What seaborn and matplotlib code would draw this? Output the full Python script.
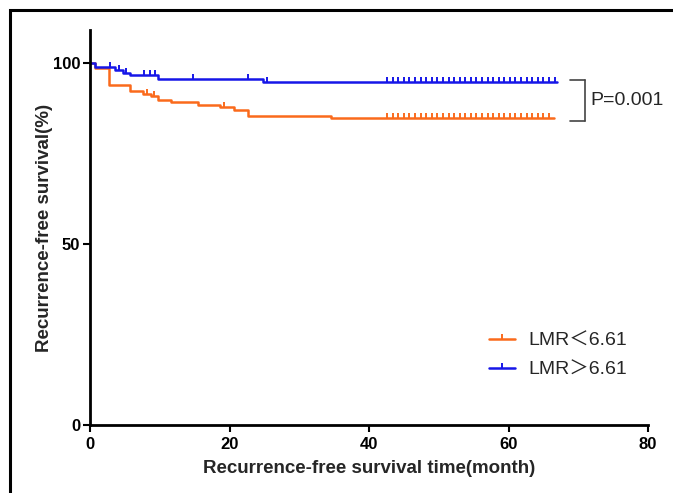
import matplotlib
matplotlib.use("Agg")
import matplotlib.pyplot as plt
from matplotlib.lines import Line2D
from matplotlib.patches import Rectangle
import numpy as np
import seaborn as sns

# DATA
# LMR < 6.61 (orange): step times (month) and survival (%)
time_low = [0, 0.7, 2.75, 5.7, 7.6, 8.7, 9.7, 11.6, 15.5, 18.6, 20.6, 22.7, 34.6, 66.5]
surv_low = [100, 98.5, 93.8, 92.1, 91.4, 90.7, 89.8, 89.0, 88.4, 87.8, 86.9, 85.3, 84.6, 84.6]
cens_low = [8.2, 9.2, 19.2,
            42.6, 43.4, 44.2, 45.0, 45.8, 46.6, 47.4, 48.2, 49.0, 49.8, 50.6, 51.4,
            52.2, 53.0, 53.8, 54.6, 55.4, 56.2, 57.0, 57.8, 58.6, 59.4, 60.2, 61.0,
            61.8, 62.6, 63.4, 64.2, 65.0, 65.8]

# LMR > 6.61 (blue)
time_high = [0, 0.7, 3.6, 4.7, 5.7, 9.7, 24.8, 67.0]
surv_high = [100, 98.8, 97.9, 97.1, 96.6, 95.5, 94.7, 94.7]
cens_high = [2.8, 4.2, 5.2, 7.7, 8.6, 9.3, 14.7, 22.7, 25.4,
             42.6, 43.4, 44.2, 45.0, 45.8, 46.6, 47.4, 48.2, 49.0, 49.8, 50.6, 51.4,
             52.2, 53.0, 53.8, 54.6, 55.4, 56.2, 57.0, 57.8, 58.6, 59.4, 60.2, 61.0,
             61.8, 62.6, 63.4, 64.2, 65.0, 65.8, 66.6]

labels = ["LMR\uff1c6.61", "LMR\uff1e6.61"]
colors = ["#FA6A1C", "#1616E8"]
p_text = "P=0.001"

x_ticks = [0, 20, 40, 60, 80]
y_ticks = [0, 50, 100]

sns.set_style("ticks")
plt.rcParams['font.family'] = ['Liberation Sans', 'Noto Sans CJK SC', 'DejaVu Sans']

fig = plt.figure(figsize=(6.73, 4.93), dpi=100)
ax = fig.add_axes([90/673, 1 - 425/493, (648-90)/673, (425-30)/493])


def surv_at(times, surv, t):
    idx = np.searchsorted(times, t, side="right") - 1
    return np.array(surv)[idx]


groups = [(time_low, surv_low, cens_low), (time_high, surv_high, cens_high)]
for (t, s, c), col in zip(groups, colors):
    sns.lineplot(x=t, y=s, drawstyle="steps-post", color=col, linewidth=1.8,
                 ax=ax, estimator=None, sort=False)
    # censor ticks
    sns.lineplot(x=c, y=surv_at(t, s, c), color=col, linestyle="", marker=2,
                 markersize=3.5, markeredgewidth=1.4, markeredgecolor=col,
                 ax=ax, estimator=None)

ax.set_xlim(0, 80)
ax.set_ylim(0, 109)
ax.set_xticks(x_ticks)
ax.set_yticks(y_ticks)
sns.despine(ax=ax)
for sp in ["left", "bottom"]:
    ax.spines[sp].set_linewidth(2)
    ax.spines[sp].set_color("black")
ax.tick_params(width=1.5, length=5, labelsize=12, colors="black")
ax.tick_params(axis="y", pad=2)
for lab in ax.get_xticklabels() + ax.get_yticklabels():
    lab.set_fontweight("bold")

ax.set_xlabel("Recurrence-free survival time(month)", fontsize=13.5, fontweight="bold",
              labelpad=6)
ax.set_ylabel("Recurrence-free survival(%)", fontsize=13.5, fontweight="bold",
              labelpad=0)

# bracket with p-value
y_top = 95.3
y_bot = 84.0
bk = dict(color="#444444", lw=1.2, clip_on=False)
ax.plot([68.8, 71.0], [y_top, y_top], **bk)
ax.plot([68.8, 71.0], [y_bot, y_bot], **bk)
ax.plot([71.0, 71.0], [y_top, y_bot], **bk)
ax.text(71.7, (y_top + y_bot) / 2, p_text, fontsize=14, va="center", ha="left")

# legend
handles = [Line2D([], [], color=c, lw=1.8, marker=2, markersize=3.5, markeredgewidth=1.4)
           for c in colors]
ax.legend(handles, labels, loc="upper left", bbox_to_anchor=(472/673, 1 - 315/493),
          bbox_transform=fig.transFigure, frameon=False, fontsize=14,
          handlelength=1.3, handletextpad=0.7, labelspacing=0.55)

# outer frame (cropped box)
fig.add_artist(Rectangle((10/673, -0.2), 1.5, (1 - 10/493) + 0.2,
                         transform=fig.transFigure, fill=False,
                         edgecolor="black", lw=2.2, clip_on=False))

fig.savefig("out.png", dpi=100)
